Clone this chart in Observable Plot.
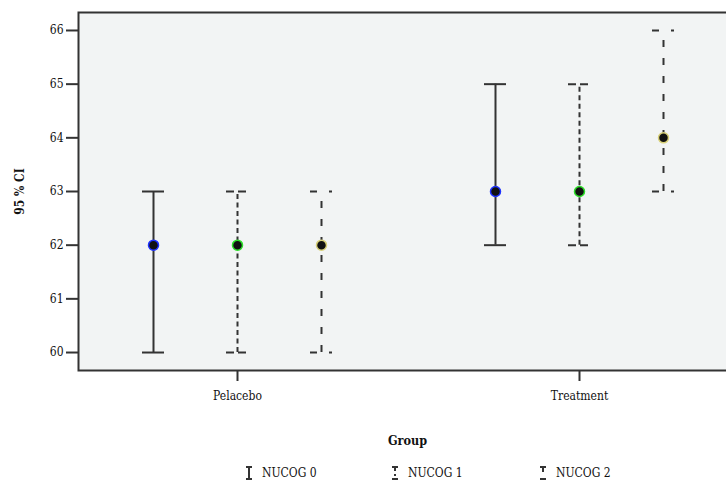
<!DOCTYPE html>
<html>
<head>
<meta charset="utf-8">
<script src="https://cdn.jsdelivr.net/npm/d3@7"></script>
<script src="https://cdn.jsdelivr.net/npm/@observablehq/plot@0.6"></script>
<style>
  html, body { margin: 0; padding: 0; background: #fff; overflow: hidden; }
  #chart { width: 726px; }
  .legend { position: relative; height: 24px; width: 726px; font-family: "DejaVu Serif Condensed", "DejaVu Serif", serif; font-size: 12px; color: #111; }
  .legend .item { position: absolute; top: 3px; display: flex; align-items: center; gap: 9px; }
  .legend svg { display: block; }
</style>
</head>
<body>
<div id="chart"></div>
<div class="legend" id="legend"></div>
<script>
const groups = ["Pelacebo", "Treatment"];
const series = ["NUCOG 0", "NUCOG 1", "NUCOG 2"];
const meanPelacebo  = [62, 62, 62];
const lowerPelacebo = [60, 60, 60];
const upperPelacebo = [63, 63, 63];
const meanTreatment  = [63, 63, 64];
const lowerTreatment = [62, 62, 63];
const upperTreatment = [65, 65, 66];
const yTicks = [60, 61, 62, 63, 64, 65, 66];

const seriesColors = ["#1f33ff", "#2ee02a", "#d8d078"];
const seriesDash = ["none", "5,3.5", "7,11"];
const capDash = ["none", "8,4,8", "7,12,3"];
const seriesOffset = [-84, 0, 84];

const rows = [];
series.forEach((s, i) => {
  rows.push({group: "Pelacebo", series: s, mean: meanPelacebo[i], lo: lowerPelacebo[i], hi: upperPelacebo[i]});
  rows.push({group: "Treatment", series: s, mean: meanTreatment[i], lo: lowerTreatment[i], hi: upperTreatment[i]});
});

const stroke = "#333";
const marks = [
  Plot.frame({fill: "#f2f4f4", stroke: null}),
  Plot.axisY({ticks: yTicks, tickSize: 12, tickPadding: 3, strokeWidth: 2, stroke: stroke, fill: "#111", label: null, tickFormat: d => String(d)}),
  Plot.axisX({tickSize: 11, tickPadding: 10, strokeWidth: 2, stroke: stroke, fill: "#111", label: null}),
];
series.forEach((s, i) => {
  const data = rows.filter(d => d.series === s);
  marks.push(Plot.ruleX(data, {x: "group", y1: "lo", y2: "hi", dx: seriesOffset[i], stroke, strokeWidth: 2, strokeDasharray: seriesDash[i]}));
  marks.push(Plot.tickY(data, {x: "group", y: "lo", dx: seriesOffset[i], stroke, strokeWidth: 2, strokeDasharray: capDash[i]}));
  marks.push(Plot.tickY(data, {x: "group", y: "hi", dx: seriesOffset[i], stroke, strokeWidth: 2, strokeDasharray: capDash[i]}));
  marks.push(Plot.dot(data, {x: "group", y: "mean", dx: seriesOffset[i], r: 5, fill: "#111", stroke: seriesColors[i], strokeWidth: 1.5}));
});
marks.push(Plot.frame({stroke: stroke, strokeWidth: 2}));
marks.push(Plot.text(["95 % CI"], {frameAnchor: "left", textAnchor: "middle", rotate: -90, dx: -58, fontWeight: "bold", fontSize: 12, fill: "#111"}));
marks.push(Plot.text(["Group"], {frameAnchor: "bottom", dy: 74, fontWeight: "bold", fontSize: 12.5, fill: "#111"}));

const chart = Plot.plot({
  width: 726,
  height: 462,
  marginTop: 12,
  marginBottom: 92,
  marginLeft: 78,
  marginRight: -10,
  style: {fontFamily: "'DejaVu Serif Condensed', 'DejaVu Serif', serif", fontSize: "12px", color: "#111", background: "#fff"},
  x: {type: "band", domain: groups, range: [226, 590], paddingInner: 0.9357, paddingOuter: 0},
  y: {domain: [59.665, 66.335]},
  marks
});
document.getElementById("chart").appendChild(chart);

// legend
const legend = d3.select("#legend");
const legendLeft = [245, 391, 539];
series.forEach((s, i) => {
  const item = legend.append("div").attr("class", "item").style("left", legendLeft[i] + "px");
  const svg = item.append("svg").attr("width", 8).attr("height", 16);
  if (i === 0) {
    svg.append("path").attr("d", "M1,2H7M4,2V14M1,14H7").attr("stroke", stroke).attr("stroke-width", 2).attr("fill", "none");
  } else if (i === 1) {
    svg.append("path").attr("d", "M1,2H7M4,2V6M4,9V11M1,14H7").attr("stroke", stroke).attr("stroke-width", 2).attr("fill", "none");
  } else {
    svg.append("path").attr("d", "M1,2H7M4,2V7M1,14H7").attr("stroke", stroke).attr("stroke-width", 2).attr("fill", "none");
  }
  item.append("span").text(s);
});
</script>
</body>
</html>
